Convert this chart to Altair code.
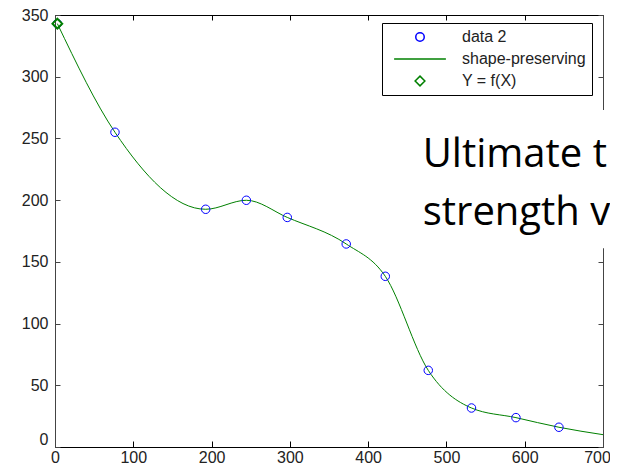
import altair as alt
import pandas as pd

# ---- data ----
X_DATA = [3, 76.6, 192.5, 244.4, 296.7, 372.0, 421.9, 476.8, 532.0, 588.8, 643.7]
Y_DATA = [343, 255.0, 192.6, 199.9, 186.0, 164.5, 138.3, 62.1, 31.6, 23.8, 16.0]
X_FIT = [3, 76.6, 192.5, 244.4, 296.7, 372.0, 421.9, 476.8, 532.0, 588.8, 643.7, 700]
Y_FIT = [343, 255.0, 192.6, 199.9, 186.0, 164.5, 138.3, 62.1, 31.6, 23.8, 16.0, 10.0]
X_F = [3]
Y_F = [343]
SERIES = ["data 2", "shape-preserving", "Y = f(X)"]
X_TICKS = [0, 100, 200, 300, 400, 500, 600, 700]
Y_TICKS = [0, 50, 100, 150, 200, 250, 300, 350]
TITLE_LINES = ["Ultimate t", "strength vs"]

W, H = 548, 432
FONT = "Liberation Sans"

pts = pd.DataFrame({
    "x": X_DATA + X_F,
    "y": Y_DATA + Y_F,
    "series": ["data 2"] * len(X_DATA) + ["Y = f(X)"] * len(X_F),
})
fit = pd.DataFrame({"x": X_FIT, "y": Y_FIT})
box = pd.DataFrame({"x1": [460], "x2": [760], "y1": [161], "y2": [273]})
title = pd.DataFrame({"x": [469.7], "y": [227]})

xs = alt.Scale(domain=[0, 700], nice=False, zero=False)
ys = alt.Scale(domain=[0, 350], nice=False, zero=False)

lab = dict(labelFont=FONT, labelFontSize=16, labelColor="#222", grid=False, title=None)

ax_bottom = alt.Axis(orient="bottom", values=X_TICKS, ticks=False, tickSize=0, labelPadding=2,
                     domainColor="black", labelFlush=False, labelOverlap=False,
                     labelOffset={"condition": {"test": "datum.value == 700", "value": -6},
                                  "value": 0}, **lab)
ax_left = alt.Axis(orient="left", values=Y_TICKS, ticks=False, tickSize=0, labelPadding=7,
                   domainColor="#444", labelOverlap=False,
                   labelBaseline={"condition": {"test": "datum.value == 0", "value": "bottom"},
                                  "value": "middle"}, **lab)
ax_top = alt.Axis(orient="bottom", offset=-H, values=X_TICKS, labels=False, tickSize=5,
                  tickColor="black", domainColor="black", grid=False, title=None)
ax_right = alt.Axis(orient="left", offset=-W, values=Y_TICKS, labels=False, tickSize=5,
                    tickColor="#444", domainColor="#444", grid=False, title=None)
ax_bin = alt.Axis(orient="top", offset=-H, values=X_TICKS, labels=False, domain=False, tickSize=6,
                  tickColor="black", grid=False, title=None)
ax_lin = alt.Axis(orient="right", offset=-W, values=Y_TICKS, labels=False, domain=False, tickSize=5,
                  tickColor="#444", grid=False, title=None)

leg = alt.Legend(title=None, orient="none", legendX=327, legendY=8, direction="vertical",
                 fillColor="white", strokeColor="black", padding=6, rowPadding=6,
                 labelFont=FONT, labelFontSize=16, labelColor="#222",
                 symbolSize=72, symbolStrokeWidth=1.5, symbolOffset=24, labelOffset=34,
                 cornerRadius=0)

line = alt.Chart(fit).mark_line(color="#008000", strokeWidth=1, interpolate="monotone").encode(
    x=alt.X("x:Q", scale=xs, axis=ax_bottom),
    y=alt.Y("y:Q", scale=ys, axis=ax_left),
)

points = alt.Chart(pts).mark_point(filled=False, size=72, opacity=1).encode(
    x=alt.X("x:Q", scale=xs, axis=ax_top),
    y=alt.Y("y:Q", scale=ys, axis=ax_right),
    color=alt.Color("series:N", scale=alt.Scale(domain=SERIES, range=["#0000ff", "#008000", "#008000"]),
                    legend=leg),
    shape=alt.Shape("series:N", scale=alt.Scale(domain=SERIES, range=["circle", "M-6.1,0H6.1", "M0,-1.15L1.15,0L0,1.15L-1.15,0Z"]),
                    legend=leg),
    strokeWidth=alt.condition("datum.series == 'Y = f(X)'", alt.value(2), alt.value(1)),
)

cover = alt.Chart(box).mark_rect(color="white", clip=False).encode(
    x=alt.X("x1:Q", scale=xs, axis=ax_bin),
    x2="x2:Q",
    y=alt.Y("y1:Q", scale=ys, axis=ax_lin),
    y2="y2:Q",
)

text = alt.Chart(title).mark_text(text=TITLE_LINES, align="left", baseline="alphabetic",
                                  font="Open Sans", fontSize=40, lineHeight=58, color="black").encode(
    x=alt.X("x:Q", scale=xs, axis=None),
    y=alt.Y("y:Q", scale=ys, axis=None),
)

chart = alt.layer(line, points, cover, text).resolve_axis(x="independent", y="independent").properties(
    width=W, height=H,
    autosize=alt.AutoSizeParams(type="none"),
    padding={"left": 47, "top": 7, "right": 7, "bottom": 17},
).configure_view(stroke=None)

chart.save("out.html", embed_options={"renderer": "svg", "actions": False})
